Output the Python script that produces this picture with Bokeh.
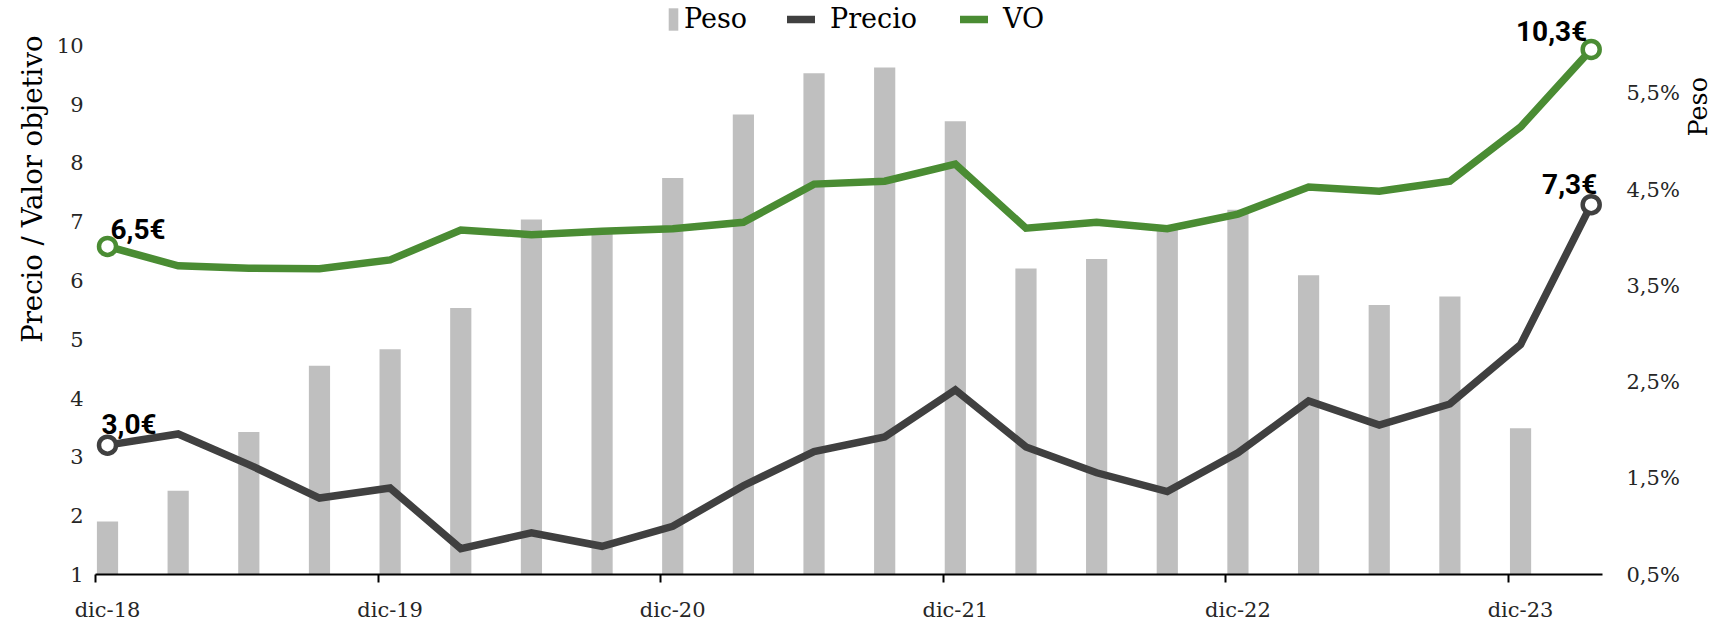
import math
from bokeh.plotting import figure
from bokeh.layouts import row
from bokeh.models import (Range1d, LinearAxis, FixedTicker, Label, Title,
                          Legend, LegendItem)
from bokeh.embed import file_html
from bokeh.resources import INLINE

# ---------------- data ----------------
quarters = ["dic-18", "mar-19", "jun-19", "sep-19", "dic-19", "mar-20", "jun-20", "sep-20",
            "dic-20", "mar-21", "jun-21", "sep-21", "dic-21", "mar-22", "jun-22", "sep-22",
            "dic-22", "mar-23", "jun-23", "sep-23", "dic-23", "mar-24"]
precio = [3.20, 3.39, 2.87, 2.30, 2.47, 1.44, 1.71, 1.48, 1.82, 2.51, 3.09, 3.34,
          4.14, 3.17, 2.73, 2.41, 3.07, 3.95, 3.54, 3.90, 4.91, 7.29]
vo = [6.58, 6.25, 6.21, 6.20, 6.35, 6.86, 6.78, 6.84, 6.88, 6.99, 7.64, 7.69,
      7.98, 6.89, 6.99, 6.88, 7.13, 7.59, 7.52, 7.69, 8.61, 9.93]
peso = [1.05, 1.37, 1.98, 2.67, 2.84, 3.27, 4.19, 4.07, 4.62, 5.28, 5.71, 5.77,
        5.21, 3.68, 3.78, 4.08, 4.29, 3.61, 3.30, 3.39, 2.02]   # no value for mar-24
precio_end_labels = ["3,0€", "7,3€"]
vo_end_labels = ["6,5€", "10,3€"]
left_ticks = [1, 2, 3, 4, 5, 6, 7, 8, 9, 10]
right_ticks = [0.5, 1.5, 2.5, 3.5, 4.5, 5.5]
right_tick_labels = ["0,5%", "1,5%", "2,5%", "3,5%", "4,5%", "5,5%"]
left_title = "Precio / Valor objetivo"
right_title = "Peso"

# ---------------- style ----------------
GREEN = "#4A8C33"
DARK = "#404040"
GRAY = "#BFBFBF"
SERIF = "DejaVu Serif"
TICK_COLOR = "#262626"
TICK_OFFSET = 0.17
LEFT_MIN, LEFT_TOP_TICK = 1, 10
PESO_MIN, PESO_TOP = 0.5, 6.0
HEAD = 45          # px of free space above the top tick (legend / labels live there)
FRAME_H = 576
FIG_H = 624
BORDER_L, FRAME_W, BORDER_R = 95, 1510, 77
MAIN_W = BORDER_L + FRAME_W + BORDER_R
SIDE_W = 1712 - MAIN_W
LINE_W = 7.5

left_px = (FRAME_H - HEAD) / (LEFT_TOP_TICK - LEFT_MIN)
right_px = (FRAME_H - HEAD) / (PESO_TOP - PESO_MIN)

xs = list(range(len(quarters)))
xs_bar = xs[:len(peso)]
year_idx = [i for i, q in enumerate(quarters) if q.startswith("dic")]

p = figure(width=MAIN_W, height=FIG_H, output_backend="svg", toolbar_location=None,
           x_range=Range1d(-TICK_OFFSET, len(quarters) - 1 + 0.16),
           y_range=Range1d(LEFT_MIN, LEFT_TOP_TICK + HEAD / left_px),
           min_border_left=BORDER_L, min_border_right=BORDER_R,
           min_border_top=0, min_border_bottom=FIG_H - FRAME_H)
p.extra_y_ranges = {"peso": Range1d(PESO_MIN, PESO_TOP + HEAD / right_px)}
p.xgrid.visible = False
p.ygrid.visible = False
p.outline_line_color = None
p.background_fill_color = "white"

# bottom axis: labels centred on the year-end points, tick marks at the year starts
xa = p.xaxis[0]
xa.ticker = FixedTicker(ticks=year_idx, minor_ticks=[i - TICK_OFFSET for i in year_idx])
xa.major_label_overrides = {i: quarters[i] for i in year_idx}
xa.major_tick_line_color = None
xa.major_tick_out = 8
xa.major_tick_in = 0
xa.minor_tick_out = 8
xa.minor_tick_in = 0
xa.minor_tick_line_width = 2
xa.minor_tick_line_color = "black"
xa.axis_line_width = 2
xa.axis_line_color = "black"
xa.major_label_standoff = 15
xa.major_label_text_font = SERIF
xa.major_label_text_font_size = "21px"
xa.major_label_text_color = TICK_COLOR

ya = p.yaxis[0]
ya.ticker = FixedTicker(ticks=left_ticks)
ya.axis_line_color = None
ya.major_tick_line_color = None
ya.minor_tick_line_color = None
ya.major_tick_out = 0
ya.minor_tick_out = 0
ya.major_label_standoff = 12
ya.major_label_text_font = SERIF
ya.major_label_text_font_size = "21px"
ya.major_label_text_color = TICK_COLOR

ra = LinearAxis(y_range_name="peso", ticker=FixedTicker(ticks=right_ticks),
                major_label_overrides=dict(zip(right_ticks, right_tick_labels)))
ra.axis_line_color = None
ra.major_tick_line_color = None
ra.minor_tick_line_color = None
ra.major_tick_out = 0
ra.minor_tick_out = 0
ra.major_label_standoff = 24
ra.major_label_text_font = SERIF
ra.major_label_text_font_size = "21px"
ra.major_label_text_color = TICK_COLOR
p.add_layout(ra, "right")

# left axis title, placed near the top as in the original
p.add_layout(Title(text=left_title, align="right", offset=35, standoff=9,
                   vertical_align="middle", text_font=SERIF, text_font_size="27.5px",
                   text_font_style="normal", text_color="black"), "left")

# ---------------- glyphs ----------------
bars = p.vbar(x=xs_bar, top=peso, bottom=PESO_MIN, width=0.3, y_range_name="peso",
              fill_color=GRAY, line_color=None)
l_precio = p.line(xs, precio, line_width=LINE_W, line_color=DARK, line_join="miter",
                  line_cap="round")
l_vo = p.line(xs, vo, line_width=LINE_W, line_color=GREEN, line_join="miter",
              line_cap="round")
p.scatter([xs[0], xs[-1]], [precio[0], precio[-1]], size=17, fill_color="white",
          line_color=DARK, line_width=4.5)
p.scatter([xs[0], xs[-1]], [vo[0], vo[-1]], size=17, fill_color="white",
          line_color=GREEN, line_width=4.5)

# end-point value labels
lab_style = dict(text_font="Roboto", text_font_style="bold", text_font_size="28px",
                 text_color="black", text_baseline="alphabetic")
p.add_layout(Label(x=xs[0], y=vo[0], text=vo_end_labels[0], text_align="left",
                   x_offset=3, y_offset=17, **lab_style))
p.add_layout(Label(x=xs[-1], y=vo[-1], text=vo_end_labels[1], text_align="right",
                   x_offset=-4, y_offset=18, **lab_style))
p.add_layout(Label(x=xs[0], y=precio[0], text=precio_end_labels[0], text_align="left",
                   x_offset=-6, y_offset=21, **lab_style))
p.add_layout(Label(x=xs[-1], y=precio[-1], text=precio_end_labels[1], text_align="right",
                   x_offset=6, y_offset=20, **lab_style))

# legends (inside the frame's free head-room)
leg_common = dict(orientation="horizontal", padding=0, margin=0, border_line_color=None,
                  background_fill_alpha=0, label_text_font=SERIF, label_text_font_size="27px",
                  label_text_color="black", glyph_height=28)
leg1 = Legend(items=[LegendItem(label="Peso", renderers=[bars])], location=(572, 540),
              glyph_width=12, label_standoff=5, **leg_common)
leg2 = Legend(items=[LegendItem(label="Precio", renderers=[l_precio]),
                     LegendItem(label="VO", renderers=[l_vo])], location=(692, 540),
              glyph_width=28, label_standoff=15, spacing=43, **leg_common)
p.add_layout(leg1)
p.add_layout(leg2)

# right-hand axis title "Peso" (reads bottom-to-top) in a slim strip next to the chart
side = figure(width=SIDE_W, height=FIG_H, output_backend="svg", toolbar_location=None,
              x_range=Range1d(0, SIDE_W), y_range=Range1d(FIG_H, 0),
              x_axis_type=None, y_axis_type=None, min_border=0,
              min_border_left=0, min_border_right=0, min_border_top=0, min_border_bottom=0)
side.outline_line_color = None
side.xgrid.visible = False
side.ygrid.visible = False
side.add_layout(Label(x=SIDE_W / 2, y=115.5, text=right_title, angle=math.pi / 2,
                      text_align="center", text_baseline="middle", text_font=SERIF,
                      text_font_size="25.5px", text_color="black"))

layout = row(p, side, spacing=0, margin=(0, 0, -6, 0))
open("out.html", "w").write(file_html(layout, INLINE))
